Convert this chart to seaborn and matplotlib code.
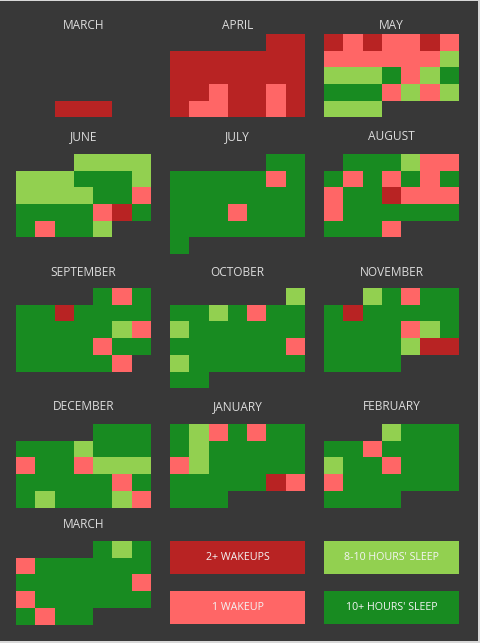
import numpy as np
import pandas as pd
import matplotlib
matplotlib.use("Agg")
import matplotlib.pyplot as plt
from matplotlib.colors import ListedColormap
from matplotlib.patches import Rectangle
import seaborn as sns

sns.set_theme(style="white")
plt.rcParams['font.family'] = ['Open Sans', 'DejaVu Sans']

# ---- data: one string per week row, one letter per day ----
# G = 10+ hours' sleep, L = 8-10 hours' sleep, P = 1 wakeup, R = 2+ wakeups, . = no day
month_names = ["MARCH", "APRIL", "MAY", "JUNE", "JULY", "AUGUST",
               "SEPTEMBER", "OCTOBER", "NOVEMBER", "DECEMBER", "JANUARY",
               "FEBRUARY", "MARCH"]

march_1 = [".......", ".......", ".......", ".......", "..RRR.."]
april = [".....RR", "RRRRRRR", "RRRRRRR", "RRPRRPR", "RPPRRPR"]
may = ["RPRPPRP", "PPPPPPL", "LLLGPLG", "GGGPLPL", "LLL...."]
june = ["...LLLL", "LLLGGGL", "LLLLGGP", "GGGGPRG", "GPGGL.."]
july = [".....GG", "GGGGGPG", "GGGGGGG", "GGGPGGG", "GGGGGGG", "G......"]
august = [".GGGLPP", "GPGPGPG", "PGGRPPP", "PGGGGGG", "GGGP..."]
september = ["....GPG", "GGRGGGG", "GGGGGLP", "GGGGPGG", "GGGGGP."]
october = ["......L", "GGLGPGG", "LGGGGGG", "GGGGGGP", "LGGGGGG", "GG....."]
november = ["..LGPGG", "GRGGGGG", "GGGGPLG", "GGGGLRR", "GGGG..."]
december = ["....GGG", "GGGLGGG", "PGGPLLL", "GGGGGPG", "GLGGGLP"]
january = ["GLPGPGG", "GLGGGGG", "PLGGGGG", "GGGGGRP", "GGG...."]
february = ["...LGGG", "GGPGGGG", "LGGPGGG", "PGGGGGG", "GGGG..."]
march_2 = ["....GLG", "PGGGGGG", "GGGGGGP", "PGGGGGG", "GPGG..."]

month_grids = [march_1, april, may, june, july, august, september, october,
               november, december, january, february, march_2]

legend_labels = ["2+ WAKEUPS", "1 WAKEUP", "8-10 HOURS' SLEEP", "10+ HOURS' SLEEP"]
legend_codes = ["R", "P", "L", "G"]

# ---- styling ----
code_values = {"G": 1, "L": 2, "P": 3, "R": 4}
palette = ["#188B21", "#92D050", "#FF6666", "#B82323"]
cmap = ListedColormap(palette)
BG = "#383838"
W, H = 480, 643

fig = plt.figure(figsize=(W / 100, H / 100), dpi=100, facecolor=BG)

col_left = [16, 170, 324]
row_top = [34, 154, 288, 424, 541]
title_y = [25.7, 136.7, 272.3, 407, 525]
cell_w, cell_h = 135 / 7, 16.7
NROWS = 6


def to_frame(rows):
    arr = np.full((NROWS, 7), np.nan)
    for r, s in enumerate(rows):
        for c, ch in enumerate(s):
            if ch in code_values:
                arr[r, c] = code_values[ch]
    return pd.DataFrame(arr)


def add_axes_px(x, y_top, w, h):
    return fig.add_axes([x / W, 1 - (y_top + h) / H, w / W, h / H])


for i, (name, rows) in enumerate(zip(month_names, month_grids)):
    gr, gc = divmod(i, 3)
    x0 = col_left[gc]
    ax = add_axes_px(x0, row_top[gr], 135, NROWS * cell_h)
    df = to_frame(rows)
    sns.heatmap(df, mask=df.isna(), cmap=cmap, vmin=0.5, vmax=4.5, cbar=False,
                xticklabels=False, yticklabels=False, ax=ax, linewidths=0)
    ax.set_axis_off()
    fig.text((x0 + 67.5) / W, 1 - title_y[gr] / H, name, ha="center", va="center",
             color="#DCDCDC", fontsize=8.6)

legend_pos = [(170, 541), (170, 591), (324, 541), (324, 591)]
for (lx, ly), lab, code in zip(legend_pos, legend_labels, legend_codes):
    ax = add_axes_px(lx, ly, 135, 2 * cell_h)
    df = pd.DataFrame([[code_values[code]]])
    sns.heatmap(df, cmap=cmap, vmin=0.5, vmax=4.5, cbar=False,
                xticklabels=False, yticklabels=False, ax=ax, linewidths=0)
    ax.set_axis_off()
    ax.text(0.5, 0.5, lab, ha="center", va="center", color="#F4F4F4",
            fontsize=7.7, transform=ax.transAxes)

# thin light frame on top/right/bottom edges
fig.patches.append(Rectangle((0, 1 - 1 / H), 1, 1 / H, transform=fig.transFigure,
                             facecolor="#D8D8D8", edgecolor="none"))
fig.patches.append(Rectangle((1 - 2 / W, 0), 2 / W, 1, transform=fig.transFigure,
                             facecolor="#D8D8D8", edgecolor="none"))
fig.patches.append(Rectangle((0, 0), 1, 2 / H, transform=fig.transFigure,
                             facecolor="#D8D8D8", edgecolor="none"))

fig.savefig("out.png", dpi=100, facecolor=BG)
